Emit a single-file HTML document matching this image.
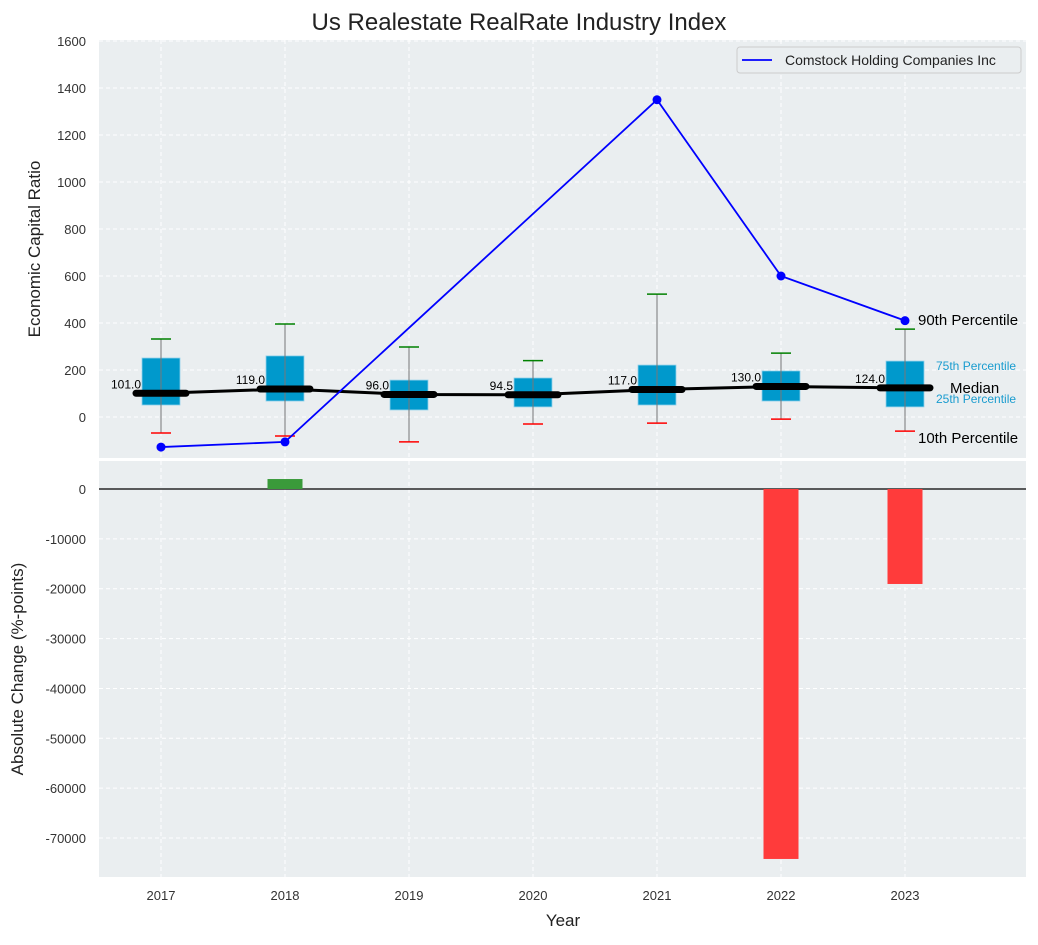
<!DOCTYPE html>
<html><head><meta charset="utf-8"><style>
body{margin:0;background:#fff;font-family:"Liberation Sans",sans-serif;}
svg text{font-family:"Liberation Sans",sans-serif;}
</style></head><body>
<svg id="c" width="1038" height="940" xmlns="http://www.w3.org/2000/svg"></svg>
<script>
const years=[2017,2018,2019,2020,2021,2022,2023];
const company=[-128,-106,null,null,1350,600,410];
const p10=[-68,-81,-106,-30,-26,-9,-60];
const p25=[51,68,30,43,51,68,43];
const median=[101,119,96,94.5,117,130,124];
const p75=[251,260,157,166,221,196,238];
const p90=[332,396,298,240,523,272,374];
const changes=[null,2000,null,null,null,-74200,-19050];
const topTicks=[0,200,400,600,800,1000,1200,1400,1600];
const botTicks=[0,-10000,-20000,-30000,-40000,-50000,-60000,-70000];

const NS="http://www.w3.org/2000/svg";
const svg=document.getElementById('c');
function el(t,a,p){const e=document.createElementNS(NS,t);for(const k in a)e.setAttribute(k,a[k]);(p||svg).appendChild(e);return e;}
const L=99,R=1026,T1=40,B1=458,T2=461,B2=877;
const xs=i=>161+124*i;
const y1=v=>417-v*0.235;
const y2=v=>489-v*0.004986;

let bg=el('rect',{x:L,y:T1,width:R-L,height:B1-T1,fill:'#eaeef0'});


bg=el('rect',{x:L,y:T2,width:R-L,height:B2-T2,fill:'#eaeef0'});



years.forEach((y,i)=>{
  el('line',{x1:xs(i),x2:xs(i),y1:T1,y2:B1,stroke:'#fff','stroke-dasharray':'4,3','stroke-width':1});
  el('line',{x1:xs(i),x2:xs(i),y1:T2,y2:B2,stroke:'#fff','stroke-dasharray':'4,3','stroke-width':1});
  const t=el('text',{x:xs(i),y:900,'text-anchor':'middle','font-size':13,fill:'#333'});t.textContent=y;
  
  
});
topTicks.forEach(v=>{
  el('line',{x1:L,x2:R,y1:y1(v),y2:y1(v),stroke:'#fff','stroke-dasharray':'4,3'});
  const t=el('text',{x:86,y:y1(v)+5,'text-anchor':'end','font-size':13,fill:'#333'});t.textContent=v;
  
  
});
botTicks.forEach(v=>{
  el('line',{x1:L,x2:R,y1:y2(v),y2:y2(v),stroke:'#fff','stroke-dasharray':'4,3'});
  const t=el('text',{x:86,y:y2(v)+5,'text-anchor':'end','font-size':13,fill:'#333'});t.textContent=v;
  
  
});

years.forEach((y,i)=>{
  const x=xs(i);
  const g=el('g',{});
  
  
  el('rect',{x:x-19,y:y1(p75[i]),width:38,height:y1(p25[i])-y1(p75[i]),fill:'#0099cc',stroke:'#8fd0ea','stroke-width':0.8},g);
  el('line',{x1:x,x2:x,y1:y1(p90[i]),y2:y1(p10[i]),stroke:'#777','stroke-width':1},g);
  el('line',{x1:x-10,x2:x+10,y1:y1(p90[i]),y2:y1(p90[i]),stroke:'green','stroke-width':1.5},g);
  el('line',{x1:x-10,x2:x+10,y1:y1(p10[i]),y2:y1(p10[i]),stroke:'red','stroke-width':1.5},g);
});
let pl=el('polyline',{points:median.map((v,i)=>xs(i)+','+y1(v)).join(' '),fill:'none',stroke:'#000','stroke-width':3});


median.forEach((v,i)=>{
  const m=el('line',{x1:xs(i)-25,x2:xs(i)+25,y1:y1(v),y2:y1(v),stroke:'#000','stroke-width':7,'stroke-linecap':'round'});
  
  
  const t=el('text',{x:xs(i)-20,y:y1(v)-5,'text-anchor':'end','font-size':12,fill:'#000'});t.textContent=v.toFixed(1);
  
  
});
const pts=[];company.forEach((v,i)=>{if(v!==null)pts.push([xs(i),y1(v)]);});
pl=el('polyline',{points:pts.map(p=>p.join(',')).join(' '),fill:'none',stroke:'blue','stroke-width':1.8});


pts.forEach(p=>{const c=el('circle',{cx:p[0],cy:p[1],r:4.5,fill:'blue'});
  
  });

const xl=xs(6);
[['Median',xl+45,y1(median[6])+5,15,'#000'],['90th Percentile',xl+13,y1(p90[6])-4,15,'#000'],['10th Percentile',xl+13,y1(p10[6])+12,15,'#000'],
 ['75th Percentile',xl+31,y1(p75[6])+9,12,'#1a9ccf'],['25th Percentile',xl+31,y1(p25[6])-4,12,'#1a9ccf']].forEach(a=>{
  const t=el('text',{x:a[1],y:a[2],'font-size':a[3],fill:a[4]});t.textContent=a[0];
  
  
});

el('line',{x1:L,x2:R,y1:y2(0),y2:y2(0),stroke:'#000','stroke-width':1.2});
changes.forEach((v,i)=>{
  if(v===null)return;
  const b=el('rect',{x:xs(i)-17.5,y:Math.min(y2(v),y2(0)),width:35,height:Math.abs(y2(v)-y2(0)),fill:v>=0?'#3a9a3a':'#ff3b3b'});
  
  
});

const lg=el('g',{});


el('rect',{x:737,y:47,width:284,height:26,rx:3,fill:'#eaeef0',stroke:'#ccc'},lg);
el('line',{x1:742,x2:772,y1:60,y2:60,stroke:'blue','stroke-width':1.8},lg);
let t=el('text',{x:785,y:65,'font-size':14,fill:'#222'},lg);t.textContent='Comstock Holding Companies Inc';

t=el('text',{x:519,y:30,'text-anchor':'middle','font-size':24,fill:'#222'});t.textContent='Us Realestate RealRate Industry Index';

t=el('text',{x:563,y:926,'text-anchor':'middle','font-size':17,fill:'#222'});t.textContent='Year';

t=el('text',{x:0,y:0,'text-anchor':'middle','font-size':17,fill:'#222',transform:'translate(40,249) rotate(-90)'});t.textContent='Economic Capital Ratio';

t=el('text',{x:0,y:0,'text-anchor':'middle','font-size':17,fill:'#222',transform:'translate(23,669) rotate(-90)'});t.textContent='Absolute Change (%-points)';

</script>
</body></html>
